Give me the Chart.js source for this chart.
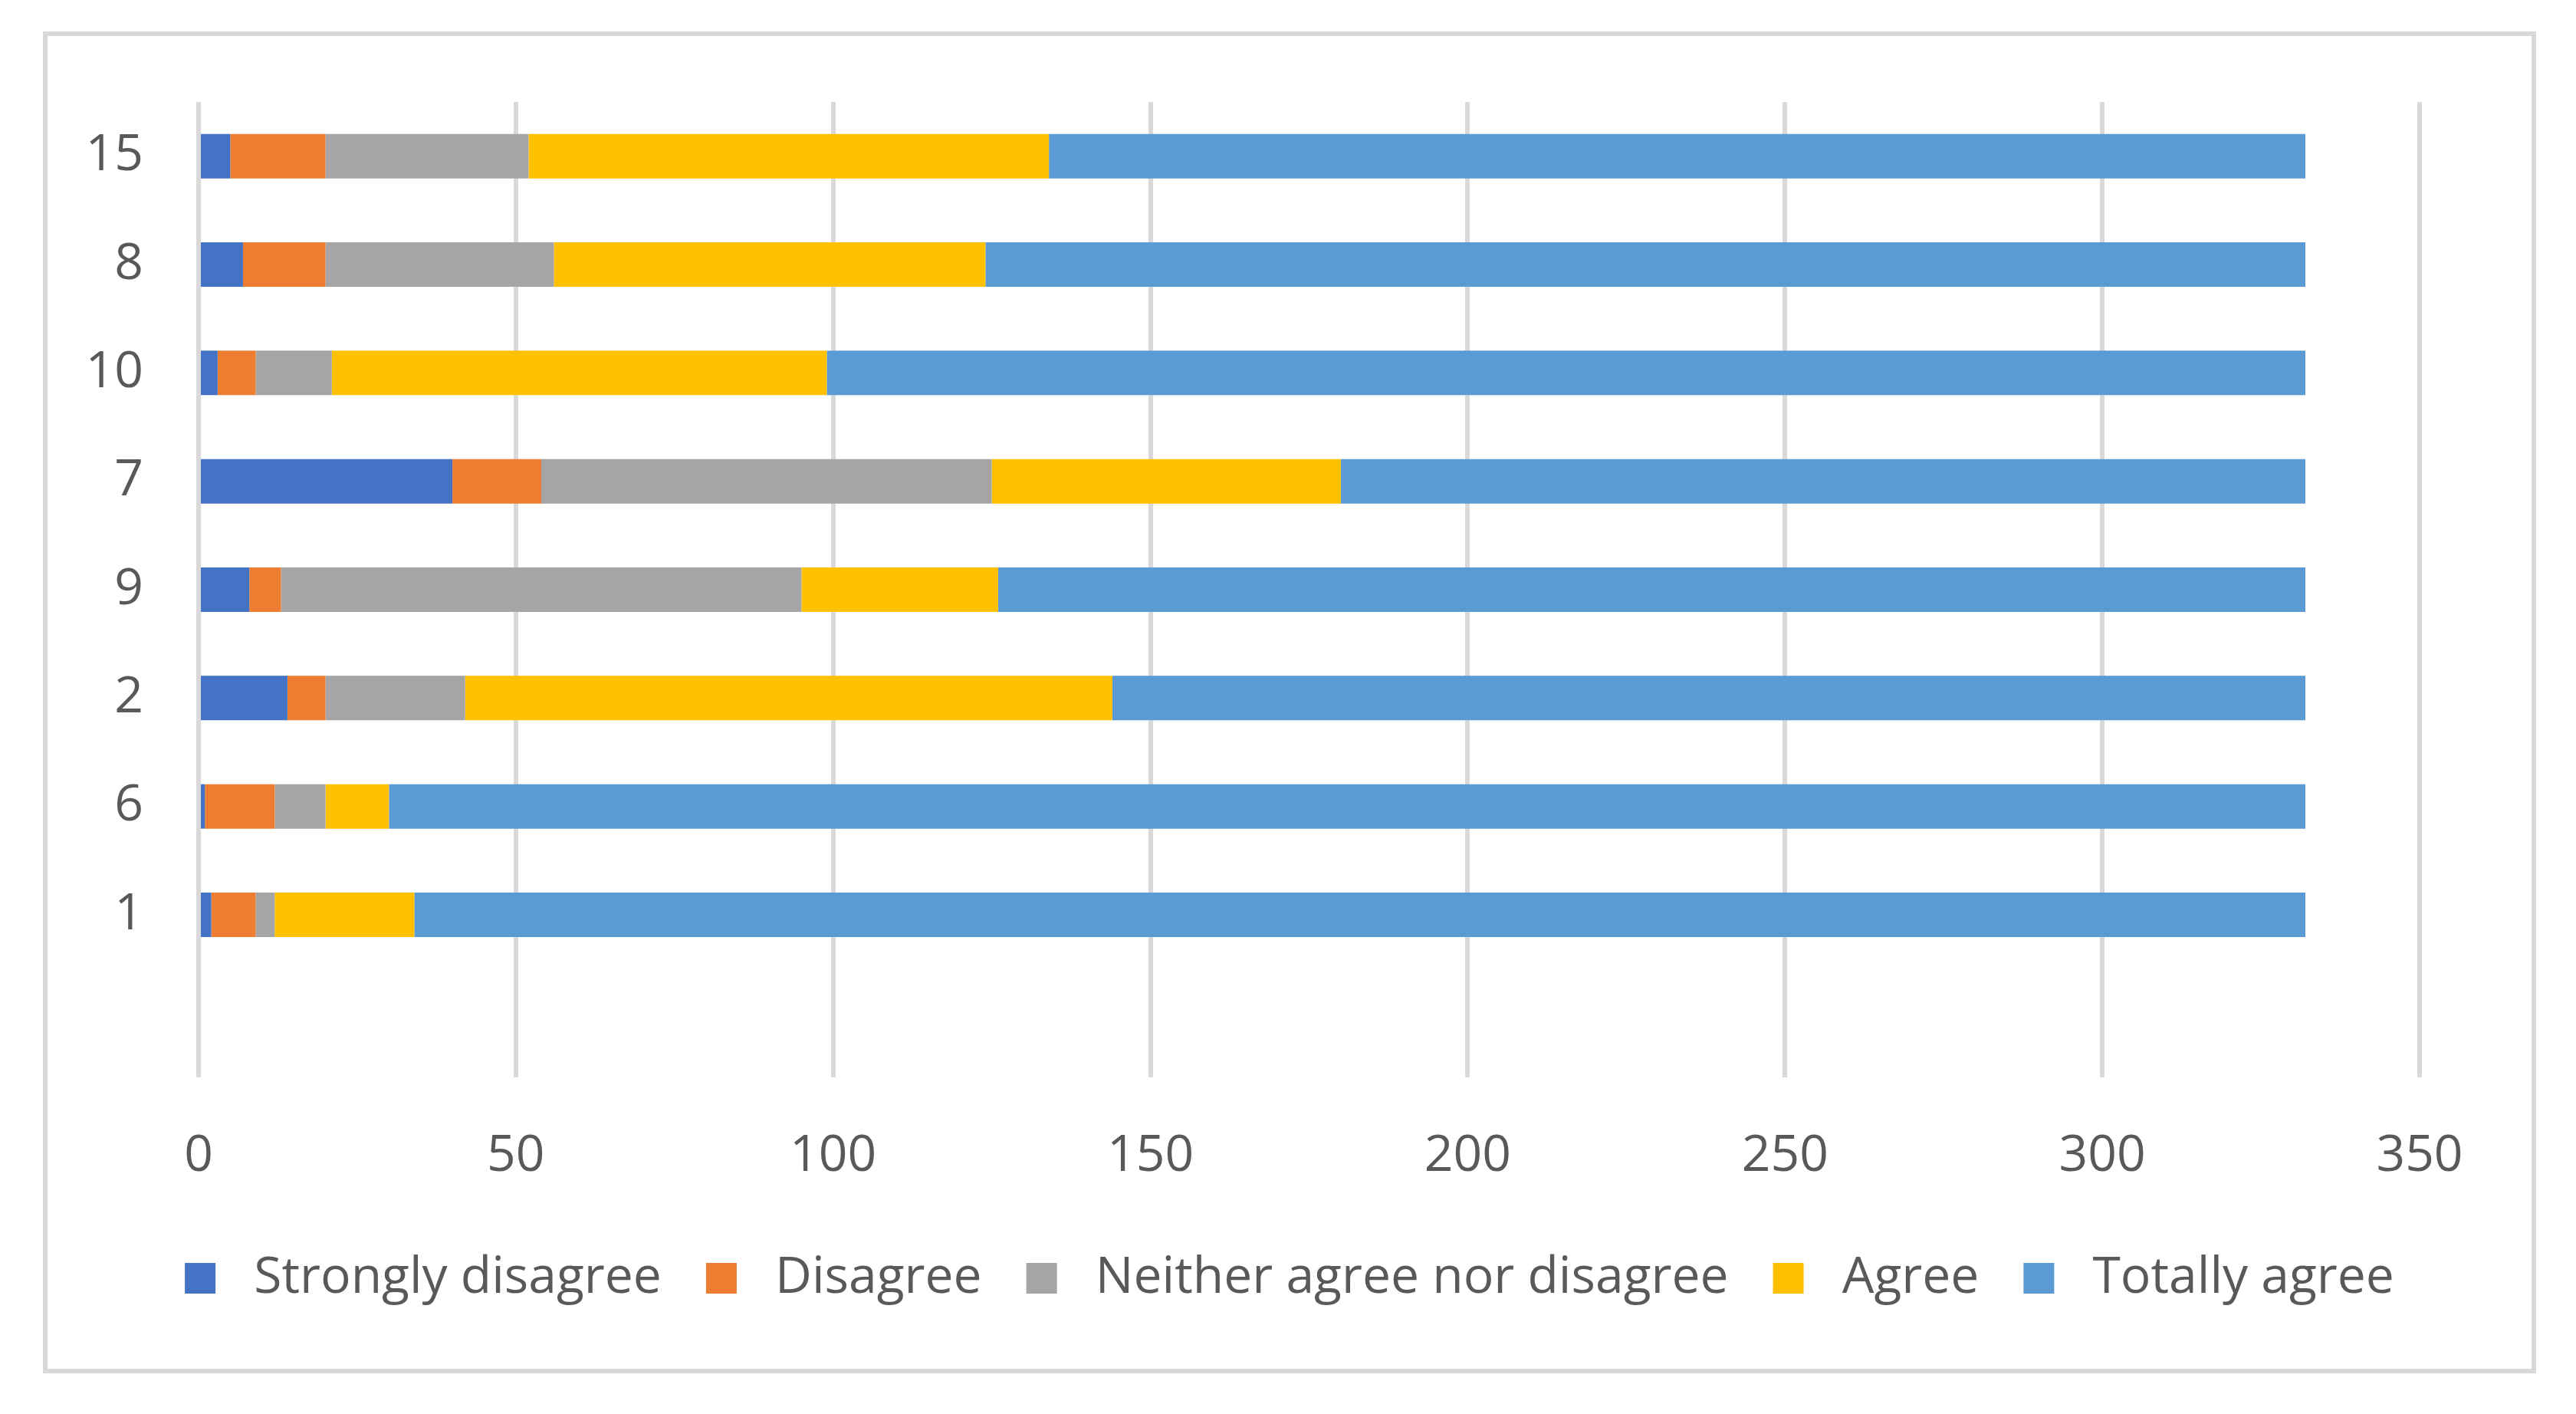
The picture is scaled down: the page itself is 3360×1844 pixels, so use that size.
<!DOCTYPE html>
<html>
<head>
<meta charset="utf-8">
<script src="https://cdn.jsdelivr.net/npm/chart.js@4.4.1/dist/chart.umd.min.js"></script>
<style>
  html, body { margin: 0; padding: 0; background: #ffffff; }
  #frame {
    position: absolute; left: 56px; top: 41px;
    width: 3252px; height: 1750px;
    box-sizing: border-box; border: 6px solid #d9d9d9; background: #ffffff;
  }
  #barCanvas { display: block; width: 3240px; height: 1738px; }
</style>
</head>
<body>
<div id="frame"><canvas id="barCanvas" width="3240" height="1738"></canvas></div>
<script>
// categories listed top to bottom (last one is the empty slot above the axis)
const categories = ["15", "8", "10", "7", "9", "2", "6", "1", ""];
const stronglyDisagree = [5, 7, 3, 40, 8, 14, 1, 2];
const disagree = [15, 13, 6, 14, 5, 6, 11, 7];
const neither = [32, 36, 12, 71, 82, 22, 8, 3];
const agree = [82, 68, 78, 55, 31, 102, 10, 22];
const totallyAgree = [198, 208, 233, 152, 206, 188, 302, 298];
const xTicks = [0, 50, 100, 150, 200, 250, 300, 350];

Chart.defaults.font.family = "'Open Sans'";
Chart.defaults.font.size = 66;
Chart.defaults.color = "#595959";

// centre the legend on the whole frame, like Excel does
const centerLegend = {
    id: "centerLegend",
    afterLayout(chart) {
        const lg = chart.legend;
        if (!lg) return;
        lg.left = 0;
        lg.right = chart.width;
        lg.width = chart.width;
    }
};

const barCanvas = document.getElementById("barCanvas");
const barChart = new Chart(barCanvas, {
    type: "bar",
    data: {
        labels: categories,
        datasets: [
            { label: "Strongly disagree", data: stronglyDisagree, backgroundColor: "#4472C4" },
            { label: "Disagree", data: disagree, backgroundColor: "#ED7D31" },
            { label: "Neither agree nor disagree", data: neither, backgroundColor: "#A5A5A5" },
            { label: "Agree", data: agree, backgroundColor: "#FFC000" },
            { label: "Totally agree", data: totallyAgree, backgroundColor: "#5B9BD5" }
        ]
    },
    plugins: [centerLegend],
    options: {
        indexAxis: "y",
        responsive: false,
        animation: false,
        layout: {
            padding: { top: 86, left: 40, right: 146, bottom: 75 }
        },
        datasets: {
            bar: {
                borderWidth: 0,
                categoryPercentage: 1,
                barPercentage: 0.41
            }
        },
        scales: {
            x: {
                stacked: true,
                min: xTicks[0],
                max: xTicks[xTicks.length - 1],
                afterBuildTicks: (scale) => {
                    scale.ticks = xTicks.map(v => ({ value: v }));
                },
                afterFit: (scale) => { scale.height = 171; },
                grid: { color: "#d9d9d9", lineWidth: 6, drawTicks: false },
                border: { display: false },
                ticks: { padding: 64 }
            },
            y: {
                stacked: true,
                afterFit: (scale) => {
                    scale.width = 157;
                    scale.paddingTop = 0;
                    scale.paddingBottom = 0;
                },
                grid: { display: false, drawTicks: false },
                border: { display: false },
                ticks: { padding: 72 }
            }
        },
        plugins: {
            tooltip: { enabled: false },
            legend: {
                position: "bottom",
                labels: {
                    boxWidth: 40,
                    boxHeight: 40,
                    padding: 58,
                    generateLabels: (chart) =>
                        Chart.defaults.plugins.legend.labels.generateLabels(chart)
                            .map(item => ({ ...item, text: " " + item.text }))
                }
            }
        }
    }
})
</script>
</body>
</html>
